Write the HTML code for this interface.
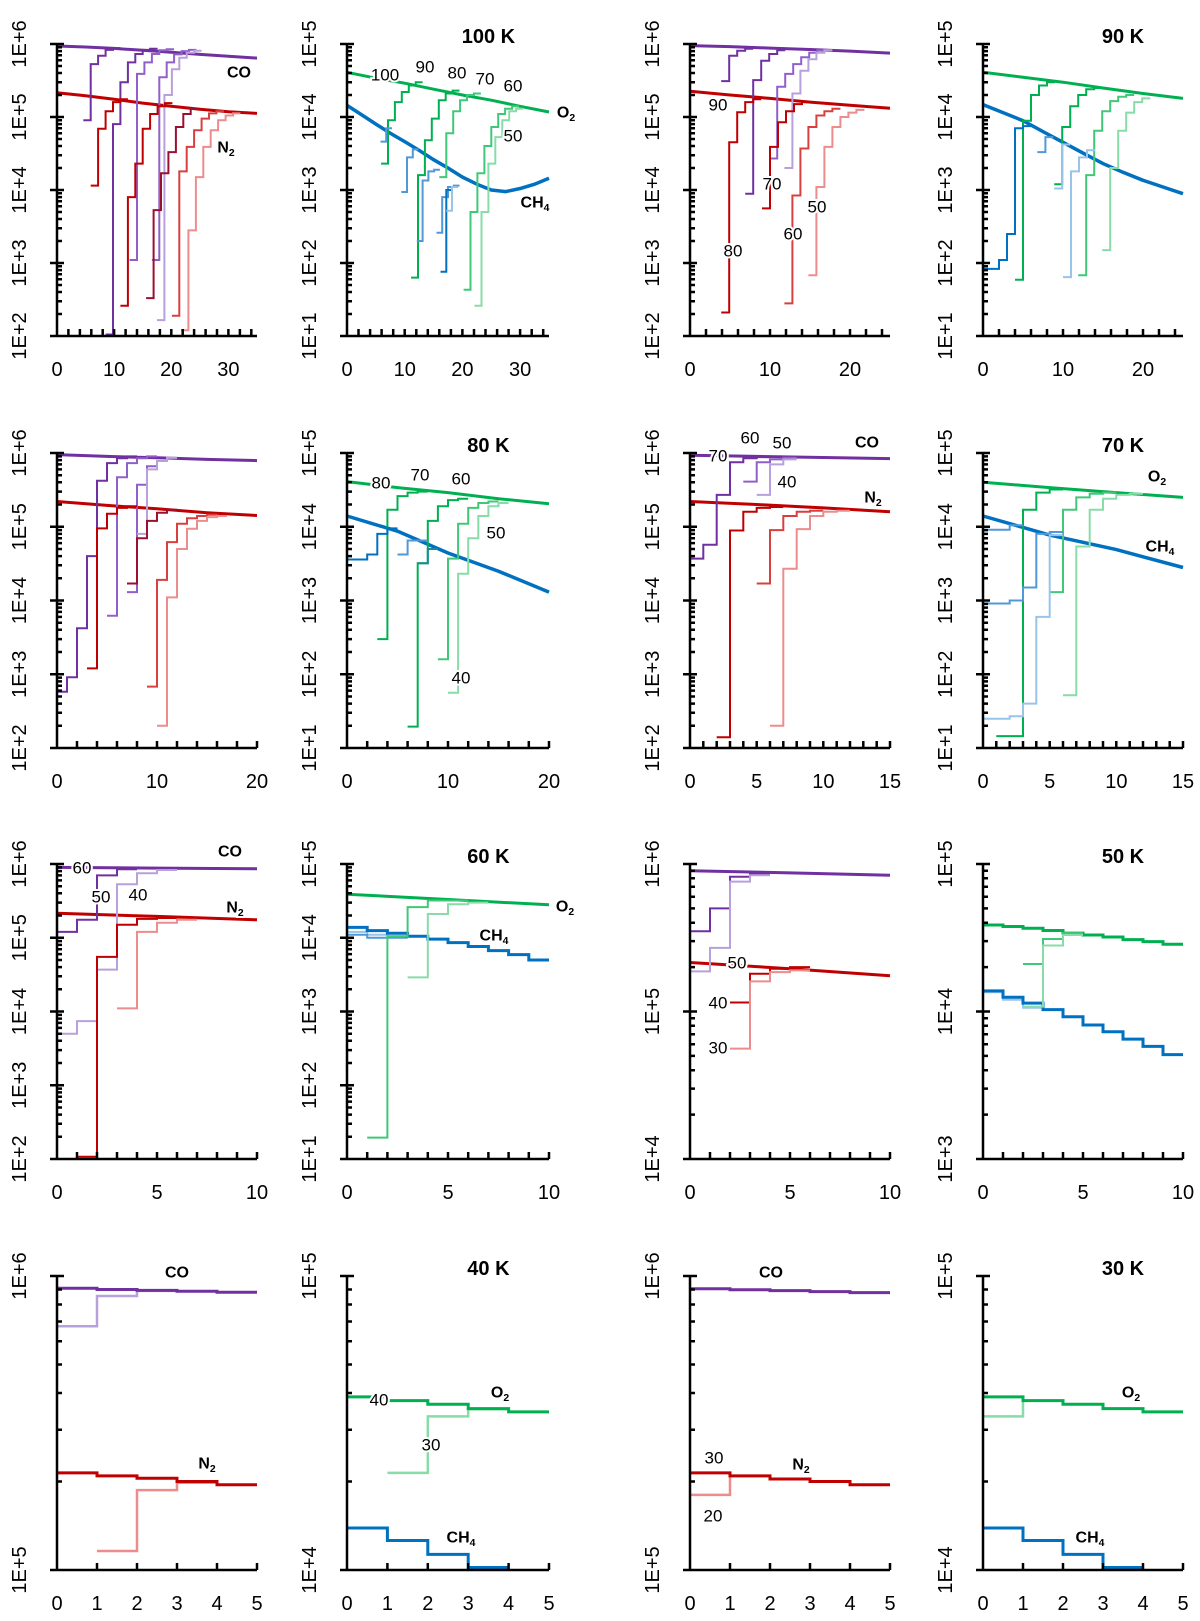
<!DOCTYPE html>
<html><head><meta charset="utf-8">
<style>
body{margin:0;background:#fff}
svg{display:block}
text{font-family:"Liberation Sans",sans-serif;fill:#000}
</style></head>
<body>
<svg id="fig" width="1200" height="1621" viewBox="0 0 1200 1621"></svg>
<script>
// ---------- data (x in panel units, y in abundance) ----------
// Panel 1 (100 K, CO/N2)
const p1_co=[9.4e5,9.1e5,8.7e5,8.2e5,7.7e5,7.2e5,6.8e5,6.4e5];
const p1_n2=[2.15e5,1.95e5,1.75e5,1.55e5,1.4e5,1.28e5,1.18e5,1.12e5];
const p1_c90=[9e4,5.3e5,6.9e5,8.3e5,8.8e5];
const p1_c80=[1.05e2,8e4,3e5,5.6e5,7.3e5,8.3e5,8.6e5];
const p1_c70=[1.1e3,3.9e5,5.6e5,7.3e5,8.2e5,8.5e5];
const p1_c60=[1.1e3,3.5e5,5.6e5,7.2e5,8e5,8.3e5];
const p1_c50=[1.65e2,2e5,4.5e5,6.5e5,7.6e5,8.1e5];
const p1_n90=[1.15e4,6.9e4,1.2e5,1.6e5,1.75e5];
const p1_n80=[2.6e2,8e3,2.3e4,6.9e4,1.1e5,1.4e5,1.55e5];
const p1_n70=[3.3e2,5.3e3,1.7e4,3.3e4,7.3e4,1.1e5,1.3e5];
const p1_n60=[1.9e2,1.8e4,3.9e4,6.6e4,9.5e4,1.12e5,1.2e5];
const p1_n50=[1.2e2,2.8e3,1.5e4,3.9e4,6.6e4,9e4,1.05e5,1.12e5];
// Panel 2 (100 K, O2/CH4)
const p2_o2=[4.1e4,3.4e4,2.9e4,2.4e4,2.0e4,1.7e4,1.4e4,1.17e4];
const p2_ch4=[1.44e4,1.08e4,8e3,6e3,4.6e3,3.5e3,2.6e3,2e3,1.5e3,1.2e3,1.0e3,9.5e2,1.05e3,1.2e3,1.45e3];
const p2_g90=[2.3e3,9e3,1.6e4,2.2e4,2.7e4,3.0e4];
const p2_g80=[63,1.6e3,4.8e3,9.5e3,1.7e4,2.1e4,2.3e4];
const p2_g70=[1.5e3,6e3,1.2e4,1.7e4,2e4,2.1e4];
const p2_g60=[43,5e2,1.7e3,4e3,7.3e3,1.1e4,1.3e4,1.4e4];
const p2_g50=[26,5e2,2.3e3,5.3e3,9e3,1.2e4,1.3e4];
const p2_b1=[4.6e3,7e3];
const p2_b2=[9.4e2,2.8e3,3.6e3];
const p2_b3=[2e2,1.35e3,1.8e3,1.9e3];
const p2_b4=[2.6e2,8e2,1.1e3,1.15e3];
const p2_b5=[76,1e3,1.1e3];
const p2_b6=[5.2e2,1.1e3];
// Panel 3 (90 K, CO/N2)
const p3_co=[9.5e5,9.2e5,8.8e5,8.4e5,8e5,7.5e5];
const p3_n2=[2.25e5,2.0e5,1.8e5,1.6e5,1.45e5,1.32e5];
const p3_c80=[3.1e5,6.9e5,8.1e5,8.6e5];
const p3_c70=[8.9e3,3.2e5,5.9e5,7.3e5,8.2e5];
const p3_c60=[2.7e4,2.6e5,3.9e5,5.3e5,6.6e5,7.6e5,8.2e5];
const p3_c50=[2e4,2.1e5,4.3e5,6.2e5,7.6e5,8.2e5];
const p3_n80=[2.1e2,4.5e4,1.16e5,1.6e5,1.75e5];
const p3_n70=[5.6e3,3.9e4,8.5e4,1.2e5,1.5e5,1.6e5];
const p3_n60=[2.8e2,8.4e3,3.7e4,7.3e4,1.05e5,1.2e5,1.3e5];
const p3_n50=[6.8e2,1.1e4,3.9e4,7.3e4,1e5,1.15e5,1.25e5];
// Panel 4 (90 K, O2/CH4)
const p4_o2=[4.1e4,3.5e4,3e4,2.5e4,2.1e4,1.8e4];
const p4_ch4=[1.48e4,1.15e4,8.9e3,6.3e3,4.5e3,3.2e3,2.3e3,1.75e3,1.36e3,1.1e3,8.9e2];
const p4_g80=[59,8.9e3,2e4,2.7e4,3e4];
const p4_g70=[1.2e3,7.3e3,1.4e4,2e4,2.4e4,2.5e4];
const p4_g60=[68,1.6e3,6.5e3,1.2e4,1.65e4,1.9e4,2e4];
const p4_g50=[1.5e2,2e3,6.5e3,1.15e4,1.6e4,1.8e4];
const p4_b1=[83,83,1.1e2,2.5e2,7e3,7.5e3];
const p4_b2=[3.3e3,5.3e3];
const p4_b3=[1.05e3,4.2e3];
const p4_b4=[64,1.8e3,2.8e3,3.5e3];
// Panel 5 (80 K, CO/N2)
const p5_co=[9.5e5,9e5,8.6e5,8.2e5,7.9e5];
const p5_n2=[2.2e5,1.95e5,1.75e5,1.55e5,1.42e5];
const p5_c70=[5.8e2,9.1e2,4.2e3,4e4,4.2e5,7.3e5,8.5e5,9e5];
const p5_c60=[6.2e3,4.7e5,7.3e5,8.5e5,9e5];
const p5_c50=[1.3e4,3.7e5,6.6e5,7.8e5,8.5e5];
const p5_c40=[8e4,6e5,7.8e5,8.6e5];
const p5_n70=[1.2e3,9.5e4,1.5e5,1.8e5,1.9e5];
const p5_n60=[1.7e4,7e4,1.2e5,1.55e5,1.7e5];
const p5_n50=[6.8e2,1.9e4,6.2e4,1.1e5,1.3e5,1.4e5,1.45e5];
const p5_n40=[2e2,1.1e4,5e4,9.4e4,1.2e5,1.35e5,1.4e5];
// Panel 6 (80 K, O2/CH4)
const p6_o2=[4.1e4,3.4e4,2.9e4,2.4e4,2.05e4];
const p6_ch4=[1.4e4,8.7e3,4.4e3,2.5e3,1.3e3];
const p6_g70=[3e2,1.7e4,2.6e4,2.9e4,3.0e4];
const p6_g60=[19.5,3.2e3,1.2e4,1.9e4,2.3e4,2.4e4];
const p6_g50=[1.6e2,3.7e3,1.1e4,1.8e4,2.1e4,2.2e4];
const p6_g40=[56,2.3e3,7e3,1.4e4,1.9e4,2.1e4];
const p6_b1=[3.6e3,3.6e3,4.2e3,8e3,9.5e3];
const p6_b2=[4.2e3,6.5e3,6.5e3];
const p6_b3=[3.2e3,5e3];
// Panel 7 (70 K, CO/N2)
const p7_co=[9.3e5,9e5,8.7e5,8.4e5];
const p7_n2=[2.2e5,2e5,1.8e5,1.6e5];
const p7_c60=[3.7e4,5.7e4,2.7e5,7.5e5,8.5e5,8.8e5];
const p7_c50=[4.1e5,7.5e5,8.2e5,8.6e5];
const p7_c40=[2.7e5,7e5,8.2e5];
const p7_n60=[1.4e2,8.9e4,1.6e5,1.8e5,1.85e5];
const p7_n50=[1.7e4,9e4,1.4e5,1.6e5,1.65e5];
const p7_n40=[2e2,2.7e4,9.3e4,1.4e5,1.6e5,1.65e5];
// Panel 8 (70 K, O2/CH4)
const p8_o2=[4e4,3.4e4,2.9e4,2.5e4];
const p8_ch4=[1.4e4,7.7e3,4.9e3,2.8e3];
const p8_g60=[14.5,14.5,1.7e4,2.9e4,3.2e4];
const p8_g50=[1.3e3,1.7e4,2.5e4,2.8e4,2.9e4];
const p8_g40=[52,5.4e3,1.7e4,2.4e4,2.7e4,2.8e4];
const p8_b1=[9.1e3,9.1e3,1.05e4];
const p8_b2=[9.1e2,9.1e2,1e3,1.5e3,8e3,8.5e3];
const p8_b3=[25,25,27,40,6e2,7.7e3];
// Panel 9 (60 K, CO/N2)
const p9_co=[9e5,8.8e5,8.6e5];
const p9_n2=[2.15e5,1.95e5,1.75e5];
const p9_c50=[1.2e5,1.75e5,7e5,8.5e5];
const p9_c40=[5e3,7.4e3,3.7e4,5.3e5,7.5e5,8.3e5];
const p9_n50=[1.07e2,5.5e4,1.5e5,1.8e5,1.85e5];
const p9_n40=[1.1e4,1.2e5,1.6e5,1.75e5];
// Panel 10 (60 K, O2/CH4)
const p10_o2=[3.9e4,3.3e4,2.8e4];
const p10_ch4=[1.38e4,1.25e4,1.15e4,1.05e4,9.6e3,8.6e3,7.6e3,6.7e3,5.9e3,5.0e3];
const p10_g50=[19.5,1.05e4,2.6e4,3.2e4,3.2e4];
const p10_g40=[2.9e3,2.1e4,2.85e4,3e4];
const p10_b1=[1.2e4,1.1e4,1.05e4];
const p10_b2=[1.1e4,1.0e4,1.0e4];
// Panel 11 (50 K, CO/N2)
const p11_co=[9e5,8.7e5,8.4e5];
const p11_n2=[2.15e5,1.95e5,1.75e5];
const p11_c40=[3.5e5,5e5,8.2e5,8.6e5];
const p11_c30=[1.87e5,2.7e5,7.6e5,8.4e5];
const p11_n40=[1.15e5,1.8e5,1.95e5,2e5];
const p11_n30=[5.6e4,1.6e5,1.85e5,1.9e5];
// Panel 12 (50 K, O2/CH4)
const p12_o2=[3.86e4,3.77e4,3.67e4,3.54e4,3.4e4,3.3e4,3.2e4,3.07e4,2.98e4,2.86e4];
const p12_ch4=[1.38e4,1.25e4,1.14e4,1.03e4,9.2e3,8.1e3,7.3e3,6.5e3,5.8e3,5.1e3];
const p12_g40=[2.1e4,3.1e4,3.4e4];
const p12_g30=[1.08e4,2.8e4,3.3e4];
const p12_b1=[1.35e4,1.2e4,1.06e4];
// Panel 13 (40 K, CO/N2)
const p13_co=[9.08e5,9e5,8.93e5,8.87e5,8.8e5];
const p13_c30=[6.75e5,8.55e5,8.9e5];
const p13_n2=[2.14e5,2.09e5,2.05e5,2.0e5,1.95e5];
const p13_n30=[1.16e5,1.87e5,1.98e5,1.95e5];
// Panel 14 (40 K, O2/CH4)
const p14_o2=[3.88e4,3.77e4,3.66e4,3.54e4,3.45e4];
const p14_g30=[2.14e4,3.33e4,3.52e4];
const p14_ch4=[1.39e4,1.26e4,1.13e4,1.02e4];
// Panel 15 (30 K, CO/N2)
const p15_co=[9.05e5,8.98e5,8.92e5,8.85e5,8.78e5];
const p15_n2=[2.14e5,2.09e5,2.04e5,2.0e5,1.95e5];
const p15_n20=[1.8e5,2.09e5];
// Panel 16 (30 K, O2/CH4)
const p16_o2=[3.88e4,3.77e4,3.66e4,3.54e4,3.45e4];
const p16_g20=[3.33e4,3.77e4];
const p16_ch4=[1.39e4,1.26e4,1.13e4,1.02e4];

// ---------- colors ----------
const CO=['#7030a0','#9060c8','#b8a0dc'], N2=['#c00000','#d84040','#ec8c8c'],
      O2=['#00b050','#40c878','#88dca8'], CH=['#0070c0','#5098d8','#98c4ea'], MAR='#9a1030';

// ---------- layout ----------
const COLX=[57,347,690,983], COLW=[200,202,200,200];
const ROWY=[44,453,864,1276], ROWH=[292,295,295,294];

const svg=document.getElementById('fig');
const NS='http://www.w3.org/2000/svg';
function mk(tag,parent){const e=document.createElementNS(NS,tag);parent.appendChild(e);return e;}

function L(v,x0,dx,c,w,nm){return {v,x0,dx,c,w,t:'line',nm};}
function S(v,x0,dx,c,w,nm){return {v,x0,dx,c,w,t:'step',nm};}

const panels=[
 {col:0,row:0,xmax:35,ymin:2,ymax:6,xt:2,xl:10,title:'',series:[
   L(p1_co,0,5,CO[0],3,'co-main'),L(p1_n2,0,5,N2[0],3,'n2-main'),
   S(p1_c90,4.6,1.3,CO[0],2,'co-90'),S(p1_c80,8.5,1.3,CO[0],2,'co-80'),S(p1_c70,12.7,1.3,CO[1],2,'co-70'),
   S(p1_c60,16.6,1.3,CO[1],2,'co-60'),S(p1_c50,17.5,1.3,CO[2],2,'co-50'),
   S(p1_n90,5.9,1.3,N2[0],2,'n2-90'),S(p1_n80,11.1,1.3,N2[0],2,'n2-80'),S(p1_n70,15.6,1.3,MAR,2,'n2-70'),
   S(p1_n60,20.1,1.3,N2[1],2,'n2-60'),S(p1_n50,21.7,1.3,N2[2],2,'n2-50')],
  texts:[['CO',239,73,1],['N|2',226,148,1]]},
 {col:1,row:0,xmax:35,ymin:1,ymax:5,xt:2,xl:10,title:'100 K',series:[
   L(p2_o2,0,5,O2[0],3,'o2-main'),L(p2_ch4,0,2.5,CH[0],3.5,'ch4-main'),
   S(p2_g90,5.9,1.2,O2[0],2,'o2-90'),S(p2_g80,11.1,1.2,O2[0],2,'o2-80'),S(p2_g70,16.0,1.2,O2[1],2,'o2-70'),
   S(p2_g60,20.2,1.2,O2[1],2,'o2-60'),S(p2_g50,22.1,1.2,O2[2],2,'o2-50'),
   S(p2_b1,5.8,1,CH[1],2,'ch4-90'),S(p2_b2,9.4,1,CH[1],2,'ch4-80'),S(p2_b3,12.1,1,CH[1],2,'ch4-70'),
   S(p2_b4,15.5,1,CH[1],2,'ch4-60'),S(p2_b5,16.2,1,CH[0],2,'ch4-55'),S(p2_b6,17.2,1,CH[2],2,'ch4-50')],
  texts:[['100',385,75,0],['90',425,67,0],['80',457,73,0],['70',485,79,0],['60',513,86,0],['50',513,136,0],['O|2',566,113,1],['CH|4',535,203,1]]},
 {col:2,row:0,xmax:25,ymin:2,ymax:6,xt:2,xl:10,title:'',series:[
   L(p3_co,0,5,CO[0],3,'co-main'),L(p3_n2,0,5,N2[0],3,'n2-main'),
   S(p3_c80,3.9,1,CO[0],2,'co-80'),S(p3_c70,6.9,1,CO[0],2,'co-70'),S(p3_c60,9.9,1,CO[1],2,'co-60'),S(p3_c50,11.8,1,CO[2],2,'co-50'),
   S(p3_n80,3.9,1,N2[0],2,'n2-80'),S(p3_n70,9.0,1,N2[0],2,'n2-70'),S(p3_n60,11.8,1,N2[1],2,'n2-60'),S(p3_n50,14.8,1,N2[2],2,'n2-50')],
  texts:[['90',718,105,0],['70',772,184,0],['80',733,251,0],['60',793,234,0],['50',817,207,0]]},
 {col:3,row:0,xmax:25,ymin:1,ymax:5,xt:2,xl:10,title:'90 K',series:[
   L(p4_o2,0,5,O2[0],3,'o2-main'),L(p4_ch4,0,2.5,CH[0],3.5,'ch4-main'),
   S(p4_g80,4,1,O2[0],2,'o2-80'),S(p4_g70,8.9,1,O2[0],2,'o2-70'),S(p4_g60,11.9,1,O2[1],2,'o2-60'),S(p4_g50,14.9,1,O2[2],2,'o2-50'),
   S(p4_b1,0,1,CH[0],2,'ch4-80'),S(p4_b2,6.8,1,CH[1],2,'ch4-70'),S(p4_b3,8.9,1,CH[2],2,'ch4-60'),S(p4_b4,10,1,CH[2],2,'ch4-50')],
  texts:[]},
 {col:0,row:1,xmax:20,ymin:2,ymax:6,xt:2,xl:10,title:'',series:[
   L(p5_co,0,5,CO[0],3,'co-main'),L(p5_n2,0,5,N2[0],3,'n2-main'),
   S(p5_c70,0,1,CO[0],2,'co-70'),S(p5_c60,5,1,CO[1],2,'co-60'),S(p5_c50,7,1,CO[1],2,'co-50'),S(p5_c40,8,1,CO[2],2,'co-40'),
   S(p5_n70,3,1,N2[0],2,'n2-70'),S(p5_n60,7,1,MAR,2,'n2-60'),S(p5_n50,9,1,N2[1],2,'n2-50'),S(p5_n40,10,1,N2[2],2,'n2-40')],
  texts:[]},
 {col:1,row:1,xmax:20,ymin:1,ymax:5,xt:2,xl:10,title:'80 K',series:[
   L(p6_o2,0,5,O2[0],3,'o2-main'),L(p6_ch4,0,5,CH[0],3.5,'ch4-main'),
   S(p6_g70,3,1,O2[0],2,'o2-70'),S(p6_g60,6,1,O2[0],2,'o2-60'),S(p6_g50,9,1,O2[1],2,'o2-50'),S(p6_g40,10,1,O2[2],2,'o2-40'),
   S(p6_b1,0,1,CH[0],2,'ch4-70'),S(p6_b2,5,1,CH[1],2,'ch4-60'),S(p6_b3,7,1,'#1a8a9a',2,'ch4-50')],
  texts:[['80',381,483,0],['70',420,475,0],['60',461,479,0],['50',496,533,0],['40',461,678,0]]},
 {col:2,row:1,xmax:15,ymin:2,ymax:6,xt:1,xl:5,title:'',series:[
   L(p7_co,0,5,CO[0],3,'co-main'),L(p7_n2,0,5,N2[0],3,'n2-main'),
   S(p7_c60,0,1,CO[0],2,'co-60'),S(p7_c50,4,1,CO[1],2,'co-50'),S(p7_c40,5,1,CO[2],2,'co-40'),
   S(p7_n60,2,1,N2[0],2,'n2-60'),S(p7_n50,5,1,N2[1],2,'n2-50'),S(p7_n40,6,1,N2[2],2,'n2-40')],
  texts:[['60',750,438,0],['50',782,443,0],['70',718,456,0],['40',787,482,0],['CO',867,443,1],['N|2',873,498,1]]},
 {col:3,row:1,xmax:15,ymin:1,ymax:5,xt:1,xl:5,title:'70 K',series:[
   L(p8_o2,0,5,O2[0],3,'o2-main'),L(p8_ch4,0,5,CH[0],3.5,'ch4-main'),
   S(p8_g60,1,1,O2[0],2,'o2-60'),S(p8_g50,5,1,O2[1],2,'o2-50'),S(p8_g40,6,1,O2[2],2,'o2-40'),
   S(p8_b1,0,1,CH[1],2,'ch4-60'),S(p8_b2,0,1,CH[1],2,'ch4-50'),S(p8_b3,0,1,CH[2],2,'ch4-40')],
  texts:[['O|2',1157,477,1],['CH|4',1160,547,1]]},
 {col:0,row:2,xmax:10,ymin:2,ymax:6,xt:1,xl:5,title:'',series:[
   L(p9_co,0,5,CO[0],3,'co-main'),L(p9_n2,0,5,N2[0],3,'n2-main'),
   S(p9_c50,0,1,CO[0],2,'co-50'),S(p9_c40,0,1,CO[2],2,'co-40'),
   S(p9_n50,1,1,N2[0],2,'n2-50'),S(p9_n40,3,1,N2[2],2,'n2-40')],
  texts:[['CO',230,852,1],['60',82,868,0],['50',101,897,0],['40',138,895,0],['N|2',235,908,1]]},
 {col:1,row:2,xmax:10,ymin:1,ymax:5,xt:1,xl:5,title:'60 K',series:[
   L(p10_o2,0,5,O2[0],3,'o2-main'),
   S(p10_b1,0,1,CH[2],2,'ch4-50'),S(p10_b2,0,1,CH[1],2,'ch4-40'),
   S(p10_ch4,0,1,CH[0],3,'ch4-main'),
   S(p10_g50,1,1,O2[1],2,'o2-50'),S(p10_g40,3,1,O2[2],2,'o2-40')],
  texts:[['O|2',565,907,1],['CH|4',494,936,1]]},
 {col:2,row:2,xmax:10,ymin:4,ymax:6,xt:1,xl:5,title:'',series:[
   L(p11_co,0,5,CO[0],3,'co-main'),L(p11_n2,0,5,N2[0],3,'n2-main'),
   S(p11_c40,0,1,CO[0],2,'co-40'),S(p11_c30,0,1,CO[2],2,'co-30'),
   S(p11_n40,2,1,N2[0],2,'n2-40'),S(p11_n30,2,1,N2[2],2,'n2-30')],
  texts:[['50',737,963,0],['40',718,1003,0],['30',718,1048,0]]},
 {col:3,row:2,xmax:10,ymin:3,ymax:5,xt:1,xl:5,title:'50 K',series:[
   S(p12_o2,0,1,O2[0],3,'o2-main'),S(p12_b1,0,1,CH[2],2,'ch4-40'),S(p12_ch4,0,1,CH[0],3,'ch4-main'),
   S(p12_g40,2,1,O2[1],2,'o2-40'),S(p12_g30,2,1,O2[2],2,'o2-30')],
  texts:[]},
 {col:0,row:3,xmax:5,ymin:5,ymax:6,xt:1,xl:1,title:'',series:[
   S(p13_c30,0,1,CO[2],2.5,'co-30'),S(p13_co,0,1,CO[0],3,'co-main'),
   S(p13_n30,1,1,N2[2],2.5,'n2-30'),S(p13_n2,0,1,N2[0],3,'n2-main')],
  texts:[['CO',177,1273,1],['N|2',207,1464,1]]},
 {col:1,row:3,xmax:5,ymin:4,ymax:5,xt:1,xl:1,title:'40 K',series:[
   S(p14_g30,1,1,O2[2],2.5,'o2-30'),S(p14_o2,0,1,O2[0],3,'o2-main'),S(p14_ch4,0,1,CH[0],3,'ch4-main')],
  texts:[['O|2',500,1393,1],['40',379,1400,0],['30',431,1445,0],['CH|4',461,1538,1]]},
 {col:2,row:3,xmax:5,ymin:5,ymax:6,xt:1,xl:1,title:'',series:[
   S(p15_co,0,1,CO[0],3,'co-main'),S(p15_n20,0,1,N2[2],2.5,'n2-20'),S(p15_n2,0,1,N2[0],3,'n2-main')],
  texts:[['CO',771,1273,1],['30',714,1458,0],['N|2',801,1465,1],['20',713,1516,0]]},
 {col:3,row:3,xmax:5,ymin:4,ymax:5,xt:1,xl:1,title:'30 K',series:[
   S(p16_g20,0,1,O2[2],2.5,'o2-20'),S(p16_o2,0,1,O2[0],3,'o2-main'),S(p16_ch4,0,1,CH[0],3,'ch4-main')],
  texts:[['O|2',1131,1393,1],['CH|4',1090,1538,1]]}
];

function addText(g,str,x,y,size,bold,anchor,halo){
  const t=mk('text',g);
  const parts=str.split('|');
  t.setAttribute('x',x);t.setAttribute('y',y);
  t.setAttribute('font-size',size);
  if(bold)t.setAttribute('font-weight','bold');
  t.setAttribute('text-anchor',anchor||'middle');
  t.setAttribute('dominant-baseline','central');
  if(halo){t.setAttribute('stroke','#fff');t.setAttribute('stroke-width','4');t.setAttribute('paint-order','stroke');}
  t.textContent=parts[0];
  if(parts[1]){const s=mk('tspan',t);s.setAttribute('font-size',size*0.65);s.setAttribute('dy','5');s.textContent=parts[1];}
  return t;
}

panels.forEach((p,i)=>{
  const X=COLX[p.col],W=COLW[p.col],Y=ROWY[p.row],H=ROWH[p.row];
  const sx=d=>X+Math.min(d,p.xmax)/p.xmax*W;
  const sy=v=>Y+(p.ymax-Math.log10(v))/(p.ymax-p.ymin)*H;
  const g=mk('g',svg);
  
  
  // series
  const sg=mk('g',g);
  
  
  p.series.forEach(s=>{
    let d='';
    if(s.t==='line'){
      s.v.forEach((v,k)=>{d+=(k?'L':'M')+sx(s.x0+k*s.dx).toFixed(1)+','+sy(v).toFixed(1);});
    }else{
      s.v.forEach((v,k)=>{
        const xa=sx(s.x0+k*s.dx),xb=sx(s.x0+(k+1)*s.dx),yy=sy(v);
        d+=(k?'L':'M')+xa.toFixed(1)+','+yy.toFixed(1)+'L'+xb.toFixed(1)+','+yy.toFixed(1);
      });
    }
    const path=mk('path',sg);
    path.setAttribute('d',d);
    path.setAttribute('fill','none');
    path.setAttribute('stroke',s.c);
    path.setAttribute('stroke-width',s.w);
    path.setAttribute('stroke-linejoin','miter');
    
    
  });
  // axes
  const ax=mk('path',g);
  let a='M'+X+','+Y+'V'+(Y+H)+'M'+(X-7)+','+(Y+H)+'H'+(X+W);
  for(let e=p.ymin;e<=p.ymax;e++){
    const yy=sy(Math.pow(10,e));
    a+='M'+(X-7)+','+yy.toFixed(1)+'H'+(X+7);
    if(e<p.ymax){for(let m=2;m<=9;m++){const ym=sy(m*Math.pow(10,e));a+='M'+X+','+ym.toFixed(1)+'H'+(X+5);}}
  }
  for(let xv=p.xt;xv<=p.xmax+1e-9;xv+=p.xt){a+='M'+sx(xv).toFixed(1)+','+(Y+H)+'V'+(Y+H-7);}
  ax.setAttribute('d',a);
  ax.setAttribute('stroke','#000');
  ax.setAttribute('stroke-width','2.5');
  ax.setAttribute('fill','none');
  
  
  // y labels
  for(let e=p.ymin;e<=p.ymax;e++){
    const yy=sy(Math.pow(10,e));
    const t=addText(g,'1E+'+e,0,0,20,0,'middle');
    t.setAttribute('transform','translate('+(X-37)+','+yy.toFixed(1)+') rotate(-90)');
    
    
  }
  // x labels
  for(let xv=0;xv<=p.xmax+1e-9;xv+=p.xl){
    const t=addText(g,String(xv),sx(xv),Y+H+34,20,0,'middle');
    
    
  }
  if(p.title){
    const t=addText(g,p.title,X+W*0.7,Y-7,20,1,'middle');
    
    
  }
  p.texts.forEach(tx=>{
    const t=addText(g,tx[0],tx[1],tx[2],tx[3]?16:17,tx[3],'middle',true);
    
    
  });
});
</script>
</body></html>
